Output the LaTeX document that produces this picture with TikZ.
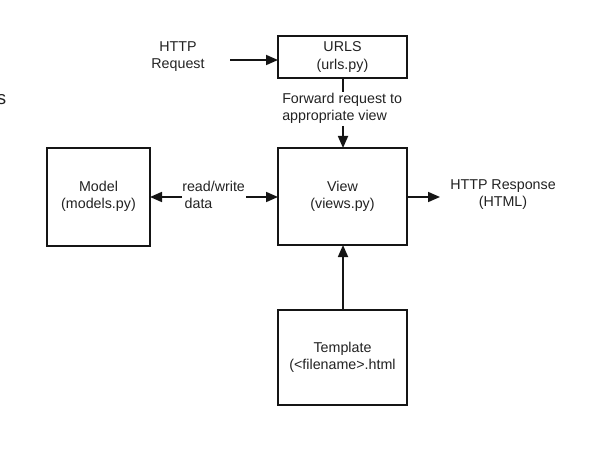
\documentclass[tikz,border=0pt]{standalone}
\usepackage{fontspec}
\setmainfont{Liberation Sans}
\usetikzlibrary{arrows.meta}
\definecolor{txt}{HTML}{222222}
\definecolor{ln}{HTML}{151515}
\begin{document}
\begin{tikzpicture}[x=0.75pt,y=-0.75pt,
  box/.style={draw=ln,line width=1.4pt,fill=white},
  lbl/.style={text=txt,font=\fontsize{10.7}{12.8}\selectfont,align=center,inner sep=0pt},
  conn/.style={draw=ln,line width=1.3pt,-{Triangle[length=9pt,width=7.5pt]}},
  plain/.style={draw=ln,line width=1.3pt}]
\useasboundingbox (0,0) rectangle (591,466);
% boxes
\draw[box] (278,36) rectangle (407,78);
\node[lbl] (urls) at (342.5,57) {URLS\\(urls.py)};
\draw[box] (278,148) rectangle (407,245);
\node[lbl] (view) at (342.5,196) {View\\(views.py)};
\draw[box] (47,148) rectangle (150,246);
\node[lbl] (model) at (98.5,196) {Model\\(models.py)};
\draw[box] (278,310) rectangle (407,405);
\node[lbl] (tmpl) at (342.5,357) {Template\\(<filename>.html};
% coordinates
\coordinate (urlsL) at (278,60);
\coordinate (urlsB) at (343,78);
\coordinate (viewT) at (343,148);
\coordinate (viewL) at (278,197);
\coordinate (viewR) at (407,197);
\coordinate (viewB) at (343,245);
\coordinate (modelR) at (150,197);
\coordinate (tmplT) at (343,310);
% labels
\node[lbl] (req) at (178,57) {HTTP\\Request};
\node[lbl,align=left,anchor=west] (fwd) at (282,108) {Forward request to\\appropriate view};
\node[lbl,align=left,anchor=west] (rw) at (182,195) {read/write\\\,data};
\node[lbl] (resp) at (503,195) {HTTP Response\\(HTML)};
\node[text=txt,font=\fontsize{14}{16}\selectfont,inner sep=0pt,anchor=base] (s) at (1.5,105) {s};
% connectors
\coordinate (reqE) at (230,60);
\draw[conn] (reqE) -- (urlsL);
\coordinate (fwdT) at (343,92);
\coordinate (fwdB) at (343,126);
\draw[plain] (urlsB) -- (fwdT);
\draw[conn] (fwdB) -- (viewT);
\coordinate (rwL) at (182,197);
\coordinate (rwR) at (246,197);
\draw[conn] (rwL) -- (modelR);
\draw[conn] (rwR) -- (viewL);
\coordinate (respL) at (440,197);
\draw[conn] (viewR) -- (respL);
\draw[conn] (tmplT) -- (viewB);
\end{tikzpicture}
\end{document}
